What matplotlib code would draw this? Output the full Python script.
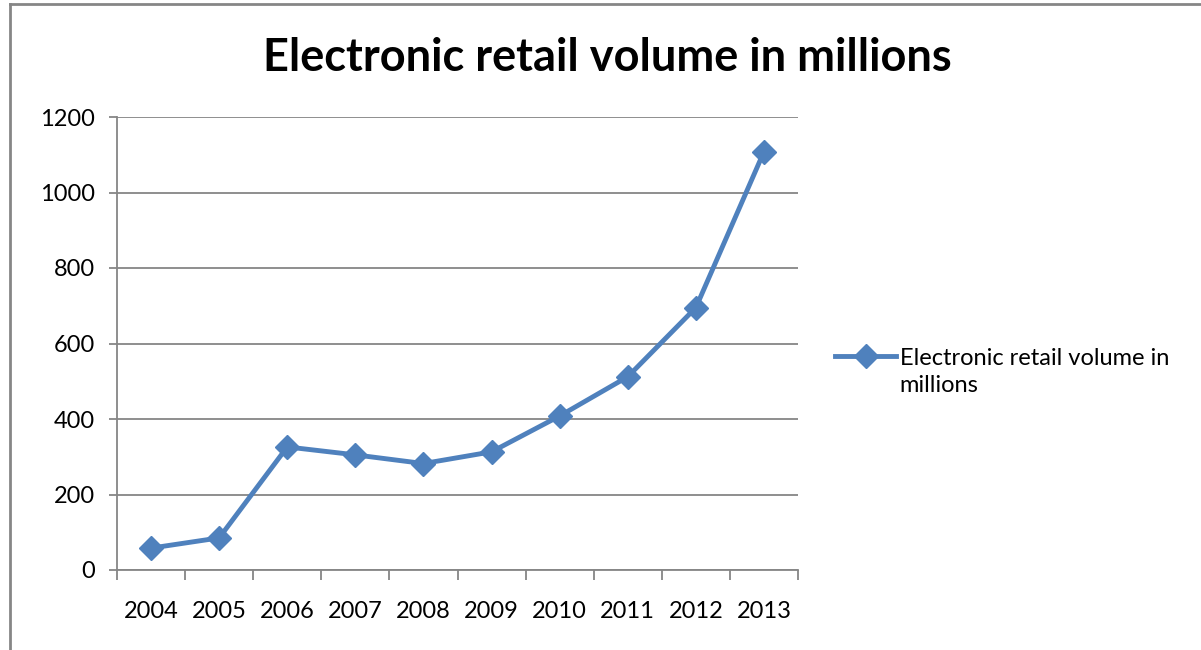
import numpy as np
import matplotlib.pyplot as plt
from matplotlib.lines import Line2D

# data
years = ['2004', '2005', '2006', '2007', '2008', '2009', '2010', '2011', '2012', '2013']
volume = [58, 85, 326, 305, 282, 313, 408, 512, 695, 1108]
series_name = 'Electronic retail volume in millions'
y_ticks = [0, 200, 400, 600, 800, 1000, 1200]

plt.rcParams['font.family'] = ['Lato', 'DejaVu Sans']

W, H = 1201, 650
fig = plt.figure(figsize=(W / 100, H / 100), dpi=100)
ax = fig.add_axes([117 / W, (H - 570) / H, 681 / W, 453 / H])

x = list(range(len(years)))
ax.plot(x, volume, color='#4F81BD', lw=3.5, marker='D', ms=12,
        label='Electronic retail volume in\nmillions', zorder=3)

ax.set_xlim(-0.5, len(years) - 0.5)
ax.set_ylim(0, 1200)
ax.set_yticks(y_ticks)
ax.set_xticks(x)
ax.set_xticklabels(years)
ax.set_xticks([i - 0.5 for i in range(len(years) + 1)], minor=True)

ax.grid(axis='y', color='#868686', lw=1.3)
ax.set_axisbelow(True)
for s in ['top', 'right']:
    ax.spines[s].set_visible(False)
for s in ['left', 'bottom']:
    ax.spines[s].set_color('#868686')
    ax.spines[s].set_linewidth(1.3)

fs = 17
ax.tick_params(axis='x', which='major', length=0, pad=22, labelsize=fs)
ax.tick_params(axis='x', which='minor', length=7, color='#868686', width=1.3)
ax.tick_params(axis='y', length=6, color='#868686', width=1.3, labelsize=fs, pad=10)

fig.text(607 / W, 1 - 58 / H, series_name, ha='center', va='center',
         fontsize=32.5, fontweight='bold')

leg = ax.legend(loc='center left', bbox_to_anchor=(823 / W, 1 - 372 / H),
                bbox_transform=fig.transFigure, frameon=False, fontsize=fs,
                handlelength=2.6, handletextpad=0.15, borderpad=0)
lsp = 1.4
for t in leg.get_texts():
    t.set_linespacing(lsp)
# line the legend key up with the first text line, like the original
for ln in leg.get_lines():
    ln.set_ydata(np.asarray(ln.get_ydata()) + 0.5 * lsp * fs)

# outer chart frame (partly cropped in the original)
fig.add_artist(Line2D([10 / W, 10 / W], [0, 1 - 4 / H], color='#868686', lw=2,
                      transform=fig.transFigure))
fig.add_artist(Line2D([10 / W, 1], [1 - 4 / H, 1 - 4 / H], color='#868686', lw=2,
                      transform=fig.transFigure))

fig.savefig('out.png', dpi=100)
